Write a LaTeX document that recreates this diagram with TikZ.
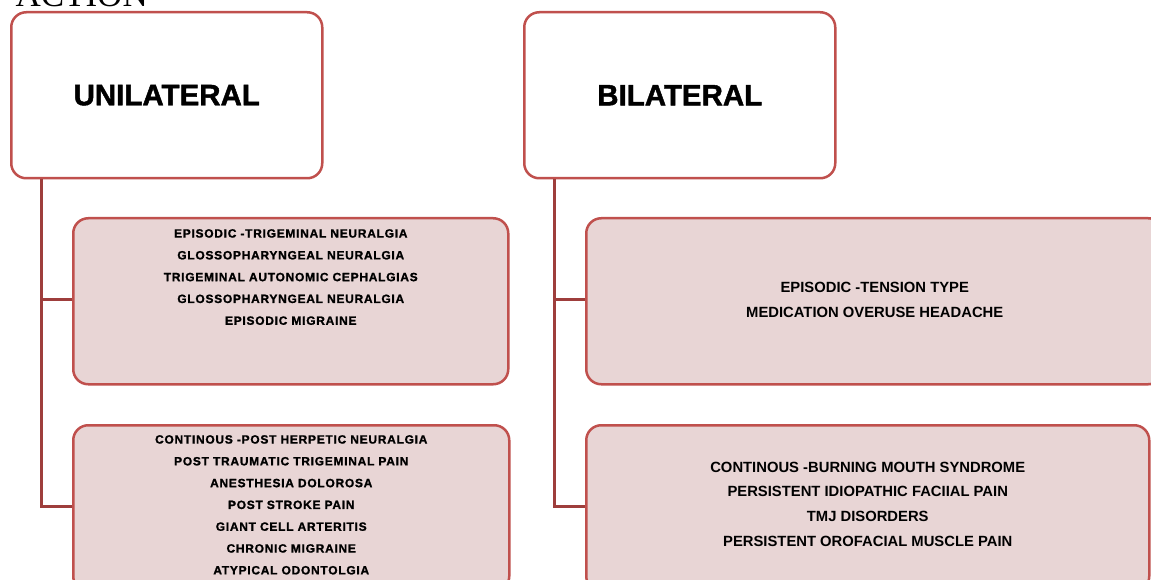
\documentclass[tikz,border=0pt]{standalone}
\usepackage{fontspec}
\setmainfont{Liberation Sans}
\newfontfamily\titleserif{Liberation Serif}
\newfontfamily\heavyfont[BoldFeatures={FakeBold=1.5}]{Liberation Sans}
\newfontfamily\widefont[LetterSpace=6.0,BoldFeatures={FakeBold=1.2}]{Liberation Sans}
\usetikzlibrary{calc}
\definecolor{boxred}{HTML}{C0504D}
\definecolor{linered}{HTML}{9E3E3C}
\definecolor{pinkfill}{HTML}{E8D5D5}
\tikzset{
  headbox/.style={draw=boxred, line width=2.5pt, fill=white, rounded corners=15pt,
    anchor=north west, minimum width=311pt, minimum height=166pt, inner sep=0pt,
    font=\heavyfont\fontsize{29.5}{34}\selectfont\bfseries},
  childbox/.style={draw=boxred, line width=2.5pt, fill=pinkfill, rounded corners=15pt,
    anchor=north west, minimum height=166pt, inner sep=0pt},
  lefttext/.style={align=center, inner sep=0pt, anchor=north,
    font=\widefont\fontsize{12}{21.8}\selectfont\bfseries},
  righttext/.style={align=center, inner sep=0pt,
    font=\fontsize{14.8}{24.7}\selectfont\bfseries},
  conn/.style={draw=linered, line width=3pt}
}
\begin{document}
\begin{tikzpicture}[x=1pt,y=-1pt]
\useasboundingbox (0,0) rectangle (1151,580);
\fill[white] (0,0) rectangle (1151,580);
\node[anchor=base east, inner sep=0pt, font=\titleserif\fontsize{35}{40}\selectfont] (ttl) at (148,7) {ACTION};
% head boxes
\node[headbox] (uni) at (10,11) {UNILATERAL};
\node[headbox] (bil) at (523,11) {BILATERAL};
% child boxes
\node[childbox, minimum width=435pt] (u1) at (72,217) {};
\node[childbox, minimum width=436pt] (u2) at (72,424) {};
\node[childbox, minimum width=577pt] (b1) at (585,217) {};
\node[childbox, minimum width=563pt] (b2) at (585,424) {};
% texts
\node[lefttext] (u1t) at ($(u1.north)+(0,12)$) {EPISODIC -TRIGEMINAL NEURALGIA\\GLOSSOPHARYNGEAL NEURALGIA\\TRIGEMINAL AUTONOMIC CEPHALGIAS\\GLOSSOPHARYNGEAL NEURALGIA\\EPISODIC MIGRAINE};
\node[lefttext] (u2t) at ($(u2.north)+(0,11)$) {CONTINOUS -POST HERPETIC NEURALGIA\\POST TRAUMATIC TRIGEMINAL PAIN\\ANESTHESIA DOLOROSA\\POST STROKE PAIN\\GIANT CELL ARTERITIS\\CHRONIC MIGRAINE\\ATYPICAL ODONTOLGIA};
\node[righttext] (b1t) at ($(b1.center)+(0,-1)$) {EPISODIC -TENSION TYPE\\MEDICATION OVERUSE HEADACHE};
\node[righttext] (b2t) at ($(b2.north)+(0,80)$) {CONTINOUS -BURNING MOUTH SYNDROME\\PERSISTENT IDIOPATHIC FACIIAL PAIN\\TMJ DISORDERS\\PERSISTENT OROFACIAL MUSCLE PAIN};
% connectors
\coordinate (ut) at ($(uni.south west)+(31,0)$);
\coordinate (bt) at ($(bil.south west)+(31,0)$);
\draw[conn] (ut) |- ($(u2.west)+(0,-2)$);
\draw[conn] ($(u1.west)+(0,-2)$) -- ($(u1.west -| ut)+(0,-2)$);
\draw[conn] (bt) |- ($(b2.west)+(0,-2)$);
\draw[conn] ($(b1.west)+(0,-2)$) -- ($(b1.west -| bt)+(0,-2)$);
\end{tikzpicture}
\end{document}
